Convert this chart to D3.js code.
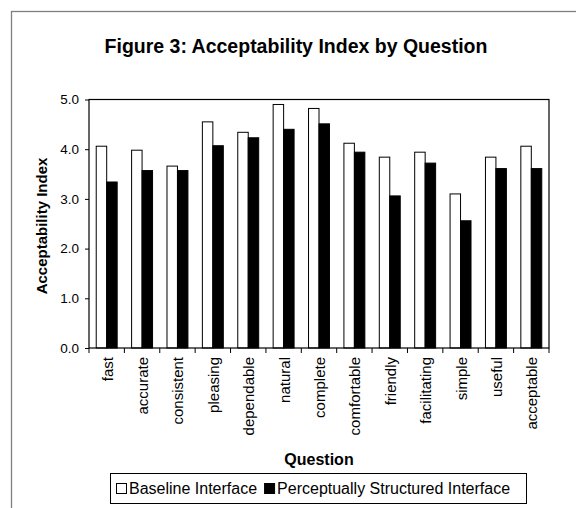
<!DOCTYPE html>
<html>
<head>
<meta charset="utf-8">
<script src="https://cdn.jsdelivr.net/npm/d3@7"></script>
<style>
  body { margin: 0; background: #fff; }
  text { font-family: Arial, "Liberation Sans", sans-serif; fill: #000; }
</style>
</head>
<body>
<svg id="chart" width="576" height="508"></svg>
<script>
"use strict";

var questions = ["fast","accurate","consistent","pleasing","dependable","natural","complete",
	"comfortable","friendly","facilitating","simple","useful","acceptable"];
var baseline = [4.06,3.98,3.66,4.55,4.34,4.90,4.82,4.12,3.84,3.94,3.10,3.84,4.06];
var perceptual = [3.34,3.57,3.57,4.07,4.23,4.40,4.51,3.94,3.06,3.72,2.56,3.61,3.61];
var seriesNames = ["Baseline Interface","Perceptually Structured Interface"];
var seriesFill = ["#fff","#000"];
var yTicks = [0,1,2,3,4,5];

var svg = d3.select("#chart");
var plotL = 89, plotR = 549, plotT = 99.5, plotB = 348;

// outer chart frame, runs off the right and bottom edge
svg.append("rect")
	.attr("x",11.5).attr("y",11.5)
	.attr("width",600).attr("height",600)
	.attr("fill","none").attr("stroke","#7f7f7f").attr("stroke-width",1.3);

svg.append("text")
	.attr("x",296).attr("y",53)
	.attr("text-anchor","middle")
	.style("font-size","19.5px").style("font-weight","bold")
	.text("Figure 3: Acceptability Index by Question");

var x = d3.scaleBand().domain(questions).range([plotL,plotR]).paddingInner(0).paddingOuter(0);
var x1 = d3.scaleBand().domain([0,1]).range([0,x.bandwidth()]).paddingOuter(0.69).paddingInner(0);
var y = d3.scaleLinear().domain([0,5]).range([plotB,plotT]);

var g = svg.append("g");
var data = [baseline, perceptual];
data.forEach(function(vals, s){
	g.selectAll(".bar"+s).data(vals).enter().append("rect")
		.attr("class","bar"+s)
		.attr("x",function(d,i){ return x(questions[i]) + x1(s); })
		.attr("y",function(d){ return y(d); })
		.attr("width",x1.bandwidth())
		.attr("height",function(d){ return plotB - y(d); })
		.attr("fill",seriesFill[s])
		.attr("stroke","#000").attr("stroke-width",1);
});

// plot area border
svg.append("rect")
	.attr("x",plotL).attr("y",plotT)
	.attr("width",plotR-plotL).attr("height",plotB-plotT)
	.attr("fill","none").attr("stroke","#000").attr("stroke-width",1.2);

var yAxis = svg.append("g")
	.attr("transform","translate("+plotL+",0)")
	.call(d3.axisLeft(y).tickValues(yTicks).tickSize(4).tickPadding(6).tickFormat(d3.format(".1f")));
yAxis.select(".domain").remove();
yAxis.selectAll("text").style("font-size","13.5px").style("font-family","Arial, 'Liberation Sans', sans-serif");

// category ticks sit on the band edges
var xAxis = svg.append("g").attr("transform","translate(0,"+plotB+")");
xAxis.selectAll("line").data(questions.concat(["end"])).enter().append("line")
	.attr("x1",function(d,i){ return plotL + i*x.step(); })
	.attr("x2",function(d,i){ return plotL + i*x.step(); })
	.attr("y1",0).attr("y2",5)
	.attr("stroke","#000");
xAxis.selectAll("text").data(questions).enter().append("text")
	.attr("transform",function(d){ return "translate("+(x(d)+x.bandwidth()/2+6)+",9) rotate(-90)"; })
	.attr("text-anchor","end")
	.style("font-size","15px")
	.text(function(d){ return d; });

svg.append("text")
	.attr("transform","translate(47,226) rotate(-90)")
	.attr("text-anchor","middle")
	.style("font-size","15px").style("font-weight","bold")
	.text("Acceptability Index");

svg.append("text")
	.attr("x",(plotL+plotR)/2).attr("y",465)
	.attr("text-anchor","middle")
	.style("font-size","16px").style("font-weight","bold")
	.text("Question");

// legend
var leg = svg.append("g");
leg.append("rect")
	.attr("x",110.5).attr("y",473.5).attr("width",416).attr("height",30)
	.attr("fill","#fff").attr("stroke","#000");
var lx = 116;
seriesNames.forEach(function(name, s){
	leg.append("rect")
		.attr("x",lx+0.5).attr("y",483.5).attr("width",10).attr("height",10)
		.attr("fill",seriesFill[s]).attr("stroke","#000");
	var t = leg.append("text")
		.attr("x",lx+13).attr("y",494)
		.style("font-size","16px")
		.text(name);
	lx += 13 + t.node().getComputedTextLength() + 7;
});
</script>
</body>
</html>
